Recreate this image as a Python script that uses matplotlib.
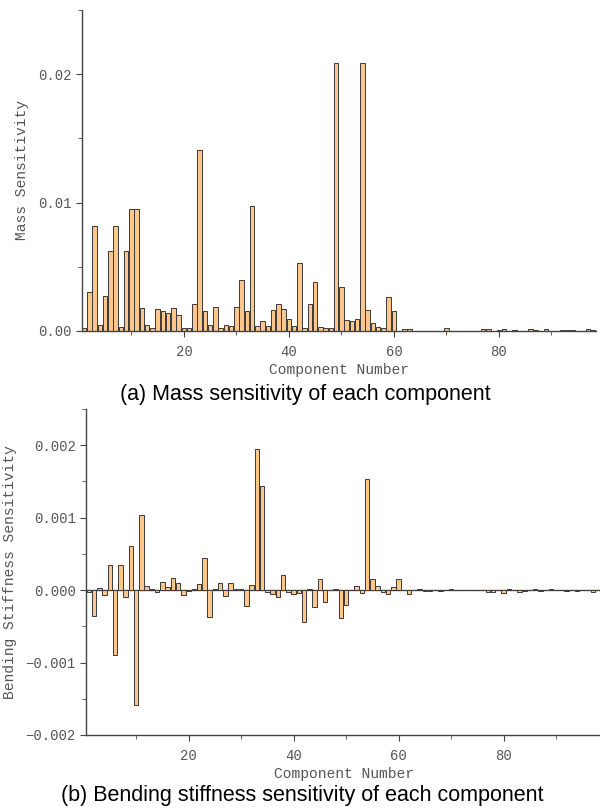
import numpy as np
import matplotlib
matplotlib.use('Agg')
import matplotlib.pyplot as plt
from matplotlib.ticker import MultipleLocator, FormatStrFormatter

# component numbers 1..98
components = np.arange(1, 99)

mass_sens = [
    0.00026, 0.00304, 0.0082, 0.00045, 0.0027, 0.0062, 0.0082, 0.00034, 0.0062, 0.0095,
    0.0095, 0.00178, 0.00045, 0.00024, 0.00175, 0.00155, 0.0014, 0.0018, 0.00124, 0.00025,
    0.00025, 0.0021, 0.0141, 0.00157, 0.0005, 0.00185, 0.00024, 0.0005, 0.00036, 0.00185,
    0.0040, 0.00158, 0.0097, 0.00042, 0.00076, 0.00042, 0.00167, 0.00207, 0.00172, 0.0009,
    0.00039, 0.0053, 0.0002, 0.00207, 0.00385, 0.00035, 0.00027, 0.0002, 0.0209, 0.00344,
    0.00089, 0.00079, 0.00097, 0.0209, 0.00166, 0.00065, 0.00028, 0.0002, 0.00266, 0.00153,
    0.0, 0.00019, 0.00019, 0.00003, 0.00002, 0.00002, 0.00002, 0.00002, 0.00002, 0.0002,
    0.00002, 0.00002, 0.00002, 0.00002, 0.00003, 0.0, 0.00019, 0.00015, 0.00003, 0.0001,
    0.00015, 0.00001, 0.00006, 0.00003, 0.00001, 0.00017, 0.0001, 0.00001, 0.00015, 0.00001,
    0.00001, 0.00004, 0.00004, 0.00004, 0.00001, 0.00001, 0.00016, 0.00005,
]

stiff_sens = [
    -0.00002, -0.00036, 0.00003, -0.00007, 0.00034, -0.00089, 0.00034, -0.0001, 0.00061, -0.00159,
    0.00103, 0.00006, 0.00002, -0.00003, 0.00011, 0.00004, 0.00017, 0.0001, -0.00007, -0.00001,
    0.00002, 0.00008, 0.00044, -0.00037, 0.00001, 0.0001, -0.00008, 0.0001, 0.00001, 0.00001,
    -0.00022, 0.00007, 0.00195, 0.00144, -0.00003, -0.00005, -0.0001, 0.00021, -0.00002, -0.00005,
    -0.00004, -0.00044, 0.00002, -0.00023, 0.00015, -0.00017, 0.0, 0.00002, -0.00038, -0.00021,
    0.0, 0.00006, -0.00004, 0.00154, 0.00016, 0.00006, -0.00002, -0.00005, 0.00004, 0.00015,
    0.0, -0.00005, 0.0, 0.00002, -0.00001, -0.00001, 0.0, -0.00001, 0.0, 0.00002,
    0.0, 0.0, 0.0, 0.0, 0.0, 0.0, -0.00002, -0.00002, 0.0, -0.00004,
    0.00002, 0.0, -0.00003, -0.00001, 0.0, 0.00002, -0.00001, 0.0, 0.00002, 0.0,
    0.0, -0.00001, 0.0, -0.00001, 0.0, 0.0, -0.00003, 0.0,
]

stiff_ticks = [-0.002, -0.001, 0.0, 0.001, 0.002]
stiff_labels = ['\u22120.002', '\u22120.001', '0.000', '0.001', '0.002']

bar_color = '#FDC68B'
edge_color = '#3a3a3a'
axis_grey = '#555555'
mono = 'Liberation Mono'

fig = plt.figure(figsize=(6.0, 8.09), dpi=100)

ax1 = fig.add_axes([81.6 / 600, 1 - 331 / 809, 514.5 / 600, 321 / 809])
ax2 = fig.add_axes([86.3 / 600, 1 - 735 / 809, 514.5 / 600, 326 / 809])


def style_axis(ax, ylabel):
    for s in ['top', 'right']:
        ax.spines[s].set_visible(False)
    for s in ['left', 'bottom']:
        ax.spines[s].set_color('#444444')
        ax.spines[s].set_linewidth(1.0)
    ax.set_xlim(0.5, 98.5)
    ax.xaxis.set_major_locator(MultipleLocator(20))
    ax.xaxis.set_minor_locator(MultipleLocator(10))
    ax.tick_params(which='both', direction='out', colors='#444444', labelcolor=axis_grey,
                   labelsize=10)
    ax.tick_params(which='major', length=4)
    ax.tick_params(which='minor', length=3)
    ax.tick_params(axis='x', pad=6)
    for lab in ax.get_xticklabels() + ax.get_yticklabels():
        lab.set_fontfamily(mono)
    ax.set_xlabel('Component Number', fontfamily=mono, fontsize=10.5, color=axis_grey,
                  labelpad=3)
    ax.set_ylabel(ylabel, fontfamily=mono, fontsize=10.5, color=axis_grey, labelpad=6)


# (a) mass sensitivity
ax1.bar(components, mass_sens, width=0.85, color=bar_color, edgecolor=edge_color, linewidth=0.7)
ax1.set_ylim(0, 0.025)
ax1.yaxis.set_major_locator(MultipleLocator(0.01))
ax1.yaxis.set_minor_locator(MultipleLocator(0.005))
ax1.yaxis.set_major_formatter(FormatStrFormatter('%.2f'))
style_axis(ax1, 'Mass Sensitivity')

# (b) bending stiffness sensitivity
ax2.axhline(0, color='#555555', linewidth=1.0, zorder=1)
ax2.bar(components, stiff_sens, width=0.85, color=bar_color, edgecolor=edge_color, linewidth=0.7,
        zorder=2)
ax2.set_ylim(-0.002, 0.0025)
ax2.yaxis.set_minor_locator(MultipleLocator(0.0005))
style_axis(ax2, 'Bending Stiffness Sensitivity')
ax2.set_yticks(stiff_ticks)
ax2.set_yticklabels(stiff_labels, fontfamily=mono)

fig.text(305 / 600, 1 - 394 / 809, '(a) Mass sensitivity of each component',
         ha='center', va='center', fontfamily='Liberation Sans', fontsize=15.5, color='black')
fig.text(302 / 600, 1 - 796 / 809, '(b) Bending stiffness sensitivity of each component',
         ha='center', va='center', fontfamily='Liberation Sans', fontsize=15.5, color='black')

fig.savefig('out.png', dpi=100)
